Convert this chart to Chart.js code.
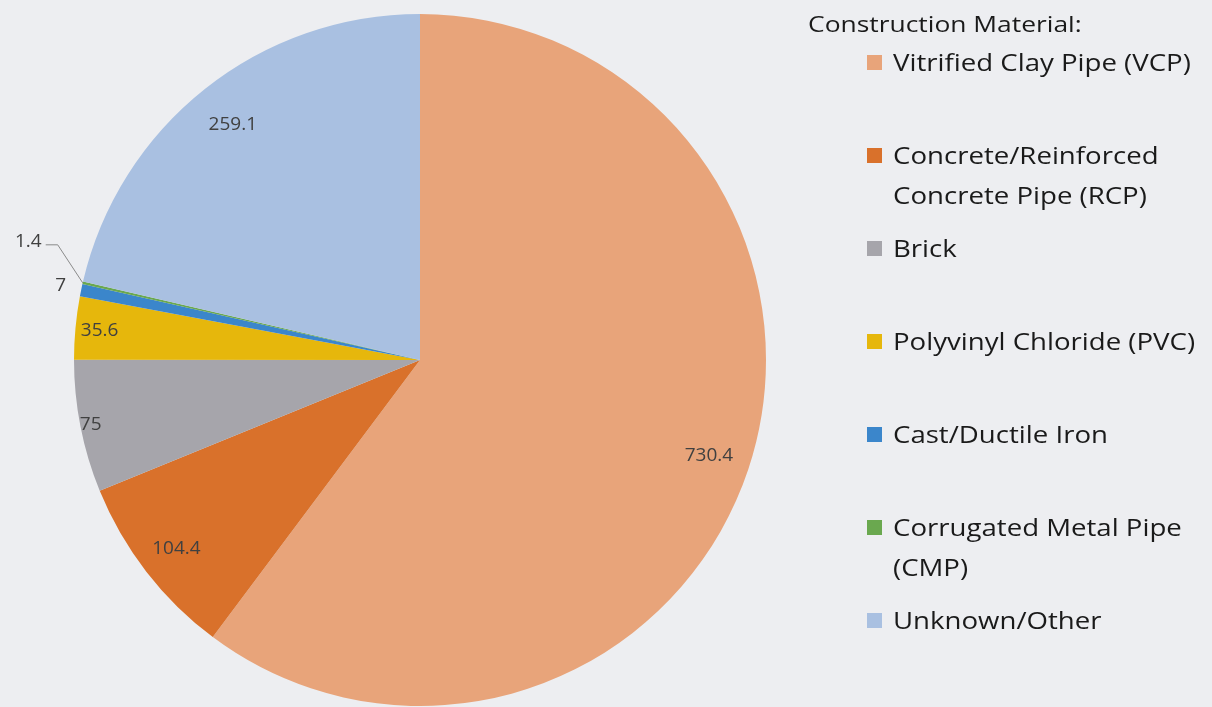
<!DOCTYPE html>
<html>
<head>
<meta charset="utf-8">
<script src="https://cdn.jsdelivr.net/npm/chart.js@4"></script>
<style>
    body { margin: 0; background: #edeef1; font-family: "Open Sans", sans-serif; }
    #wrap { position: relative; width: 1212px; height: 707px; overflow: hidden; background: #edeef1; }
    #grafico { position: absolute; left: 0; top: 0; }
    #legenda-titulo { position: absolute; left: 808px; top: 3px; font-size: 22px; line-height: 40px; color: #1a1a1a;
        white-space: nowrap; transform: scaleX(1.2); transform-origin: left top; }
    .item { position: absolute; left: 867px; width: 345px; height: 80px; font-size: 23px; line-height: 40px; color: #1a1a1a; }
    .item .cor { position: absolute; left: 0; top: 13px; width: 15px; height: 15px; }
    .item .txt { position: absolute; left: 26px; top: 0; width: 265px; transform: scaleX(1.2); transform-origin: left top; }
</style>
</head>
<body>
<div id="wrap">
    <canvas id="grafico" width="840" height="707"></canvas>
    <div id="legenda-titulo">Construction Material:</div>
    <div id="legenda"></div>
</div>
<script>
var materiais = ['Vitrified Clay Pipe (VCP)', 'Concrete/Reinforced Concrete Pipe (RCP)', 'Brick',
    'Polyvinyl Chloride (PVC)', 'Cast/Ductile Iron', 'Corrugated Metal Pipe (CMP)', 'Unknown/Other'];
var valores = [730.4, 104.4, 75, 35.6, 7, 1.4, 259.1];
var rotulos = ['730.4', '104.4', '75', '35.6', '7', '1.4', '259.1'];
var cores = ['#e8a47a', '#d9712b', '#a6a5ab', '#e6b70c', '#3b86cb', '#6aa84f', '#a9c0e1'];

// posicao radial dos rotulos (fracao do raio)
var raioRotulo = [0.88, 0.89, 0.97, 0.93, 1.06, 0, 0.87];

// legenda em html
var legenda = document.getElementById('legenda');
materiais.forEach(function(nome, i) {
    var item = document.createElement('div');
    item.className = 'item';
    item.style.top = (42 + i * 93) + 'px';
    item.innerHTML = '<span class="cor" style="background:' + cores[i] + '"></span><div class="txt">' + nome + '</div>';
    legenda.appendChild(item);
});

var rotulosPlugin = {
    id: 'rotulos',
    afterDatasetsDraw: function(chart) {
        var ctx = chart.ctx;
        var arcos = chart.getDatasetMeta(0).data;
        ctx.save();
        ctx.font = '19px "Open Sans", sans-serif';
        ctx.fillStyle = '#404040';
        ctx.textBaseline = 'middle';
        arcos.forEach(function(arco, i) {
            var p = arco.getProps(['x', 'y', 'startAngle', 'endAngle', 'outerRadius'], true);
            var meio = (p.startAngle + p.endAngle) / 2;
            if (raioRotulo[i] === 0) {
                // rotulo com linha guia
                var bx = p.x + Math.cos(meio) * p.outerRadius;
                var by = p.y + Math.sin(meio) * p.outerRadius;
                var ex = bx - 25, ey = by - 38;
                ctx.strokeStyle = '#8a8a8a';
                ctx.lineWidth = 1;
                ctx.beginPath();
                ctx.moveTo(bx, by);
                ctx.lineTo(ex, ey);
                ctx.lineTo(ex - 12, ey);
                ctx.stroke();
                ctx.textAlign = 'right';
                ctx.fillText(rotulos[i], ex - 16, ey - 3);
                return;
            }
            var r = p.outerRadius * raioRotulo[i];
            ctx.textAlign = 'center';
            ctx.fillText(rotulos[i], p.x + Math.cos(meio) * r, p.y + Math.sin(meio) * r);
        });
        ctx.restore();
    }
};

var ctx = document.getElementById('grafico').getContext('2d');
new Chart(ctx, {
    type: 'pie',
    data: {
        labels: materiais,
        datasets: [{
            data: valores,
            backgroundColor: cores,
            borderWidth: 0
        }]
    },
    options: {
        responsive: false,
        animation: false,
        layout: { padding: { left: 74, right: 74, top: 14, bottom: 1 } },
        plugins: {
            legend: { display: false },
            tooltip: { enabled: false }
        }
    },
    plugins: [rotulosPlugin]
});
</script>
</body>
</html>
